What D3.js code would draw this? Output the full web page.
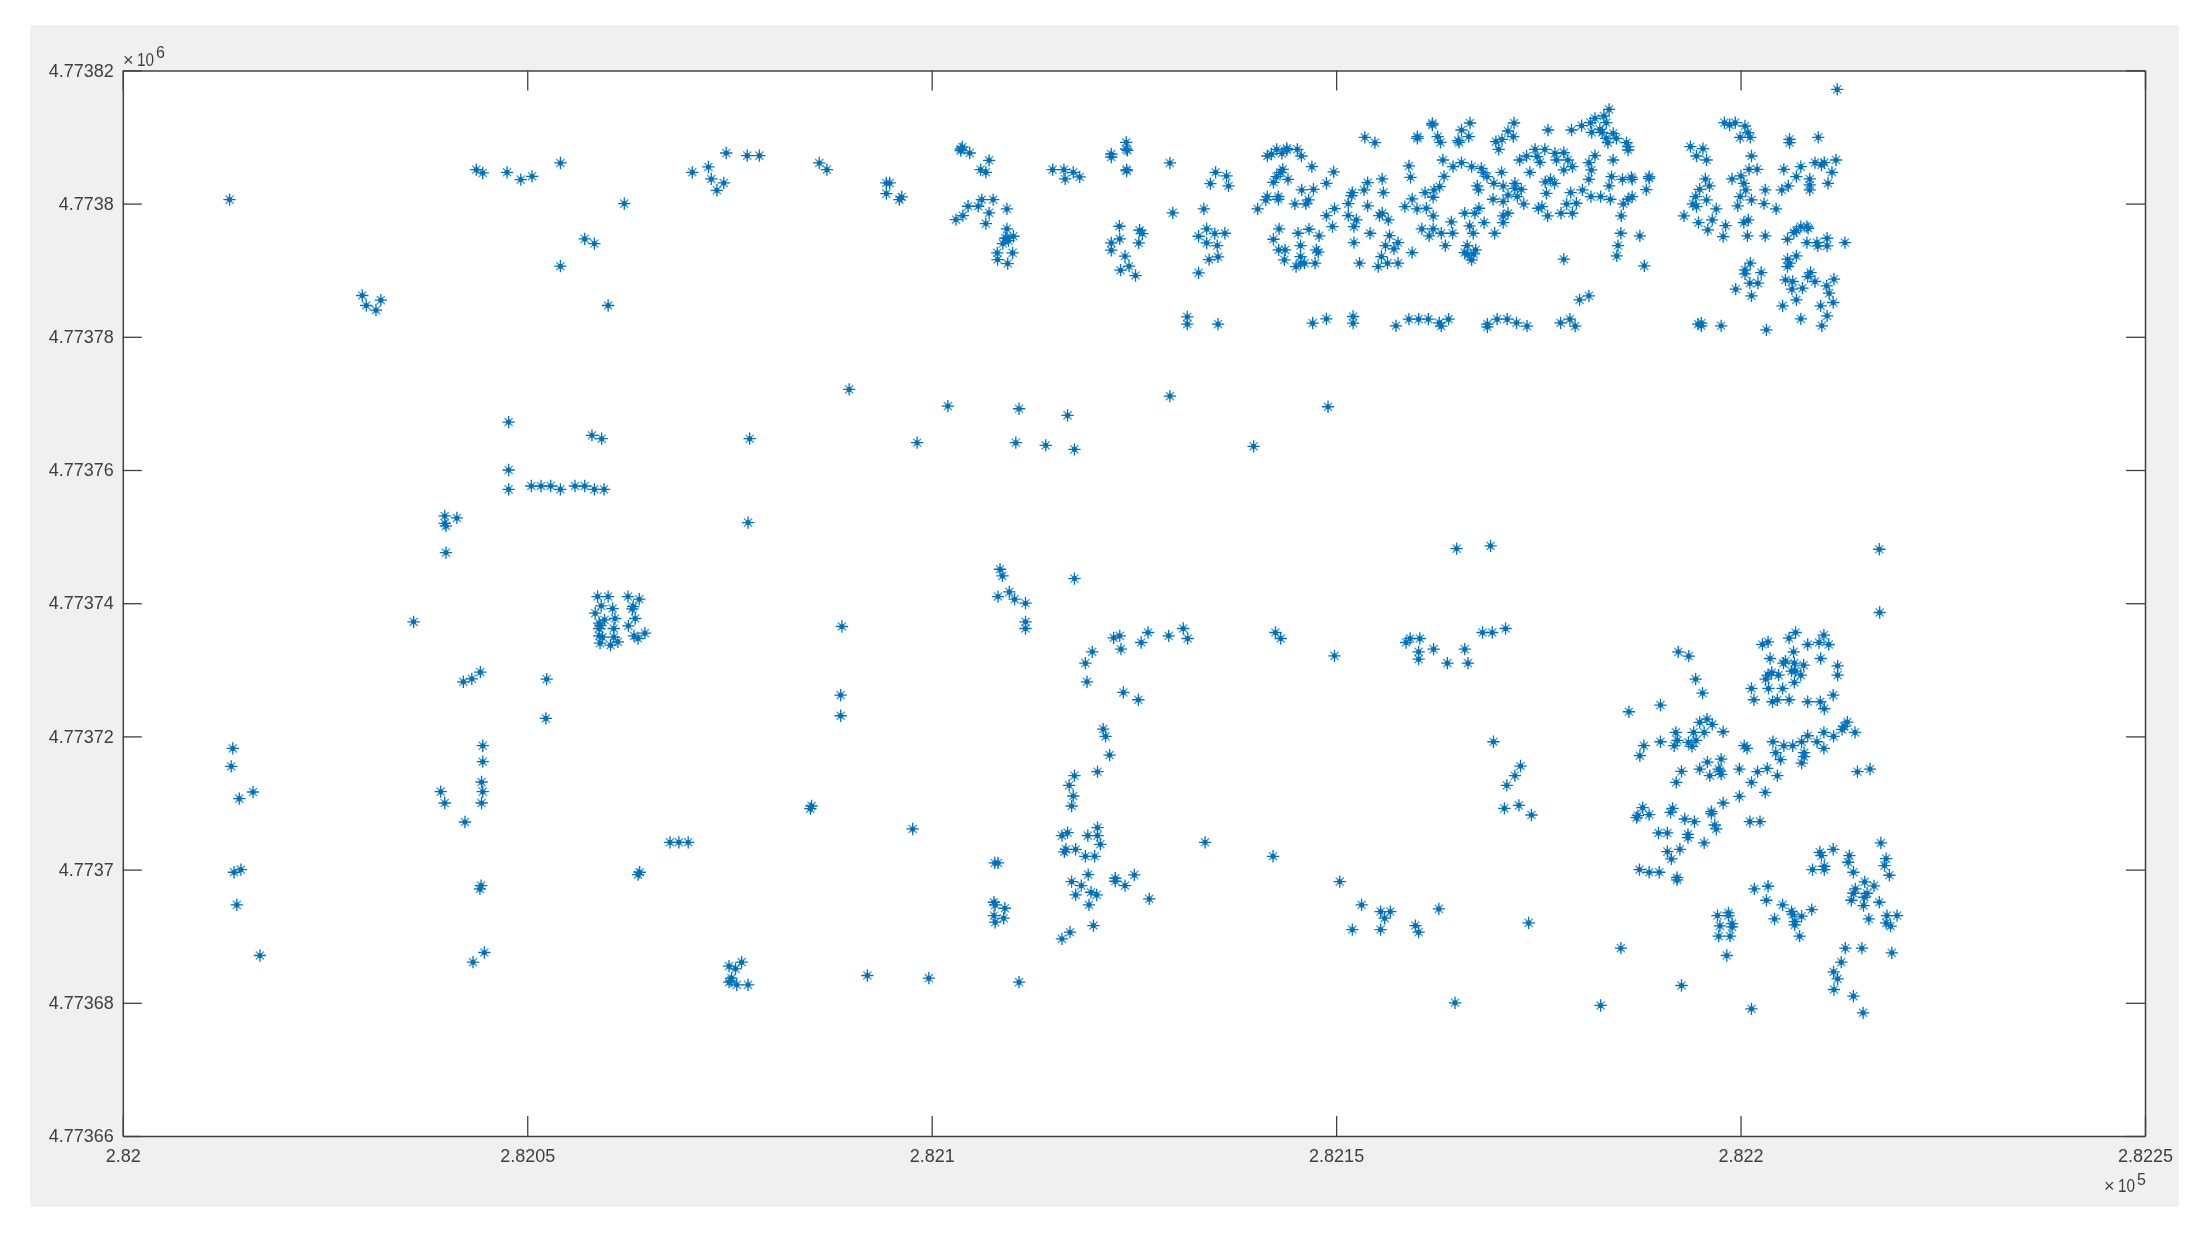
<!DOCTYPE html>
<html><head><meta charset="utf-8">
<script src="https://cdn.jsdelivr.net/npm/d3@7/dist/d3.min.js"></script>
<style>html,body{margin:0;padding:0;background:#fff}svg{display:block;filter:blur(0.45px)}text{font-family:"Liberation Sans",Arial,sans-serif;fill:#404040}</style>
</head><body><svg id="c" width="2205" height="1238"></svg>
<script>
// x = 282000 + first value, y = 4773000 + second value
const xBase = 282000, yBase = 4773000;
const xTicks = [282000,282050,282100,282150,282200,282250];
const xTickLabels = ["2.82","2.8205","2.821","2.8215","2.822","2.8225"];
const yTicks = [4773660,4773680,4773700,4773720,4773740,4773760,4773780,4773800,4773820];
const yTickLabels = ["4.77366","4.77368","4.7737","4.77372","4.77374","4.77376","4.77378","4.7738","4.77382"];

const upperLeft = [[13.2,800.6],[29.6,786.2],[30.1,784.7],[31.3,784],[31.9,785.5],[43.7,805.1],[44.5,804.6],[47.5,804.7],[49.2,803.6],[50.6,804.1],[54.1,806.1],[62,800],[57.1,794.7],[58.3,794],[54.1,790.6],[60,784.7],[70.4,804.7]];
const upperMiddle = [[74.6,807.6],[77.2,807.2],[78.7,807.2],[72.4,805.5],[72.75,803.7],[74.3,803.1],[73.45,802],[86.1,806.1],[87.05,805.1],[94.4,803.1],[94.8,803.1],[94.4,801.5],[96.3,801],[96,800.6],[103.6,808.2],[103.6,807.95],[103.8,808.5],[104.7,807.6],[107.1,806.5],[106.05,805.1],[106.7,804.7],[106.2,800.6],[107.6,800.6],[109.3,799.2],[104.5,799.6],[105.75,799.6],[107.1,798.6],[103.85,798.2],[103,797.6],[106.7,797],[109.3,796.2],[110.1,795.1],[109.3,794.8],[109.1,794.8],[109.5,794.45],[108.8,794],[108.1,792.6],[110,792.6],[108.15,791.6],[109.4,791],[114.95,805.1],[116.35,805.1],[117.5,804.7],[116.5,803.7],[118.3,804],[122.2,807.45],[122.2,807],[124.05,809.2],[124.05,808.2],[124.2,808],[124.1,805.1],[124.1,804.9],[129.45,806.1],[135.1,804.7],[134.45,803],[129.8,798.6],[133.65,799.2],[123.2,796.6],[125.7,796],[126.05,795.5],[123.25,794.7],[122.2,794.1],[125.6,794.1],[122.2,793],[123.9,792.1],[124.4,790.6],[123.35,790],[125.2,789.2],[134,796.2],[133,795.1],[135,795.5],[134,794.1],[135.3,793.7],[134.3,791.6],[135.4,792],[133,789.6],[136.25,795.55],[136.45,804.15],[136.7,802.65],[131.6,783],[131.6,781.9],[135.4,781.9]];
const midScatter = [[89.8,772.1],[77.5,764.7],[102,769.6],[98.2,764.1],[110.8,769.2],[110.4,764.1],[114.1,763.7],[116.8,768.2],[117.65,763.1],[129.45,771.1],[139.8,763.55],[149,769.5],[217.15,748.1],[164.9,748.2],[169.1,748.6],[142.5,735.6],[143.15,734.7],[149.8,732.1],[158.65,734.1],[159.15,734.7],[160.35,734.7],[160.2,732.7],[160.2,731.6],[162.05,733.1],[163.75,731],[165.9,733.1],[166.3,731],[168.1,735.6],[169.3,735.6],[170.95,736.2],[186.2,723.7],[169.45,719.2],[172.8,715.55],[172.1,714.1],[171.1,712.65],[170.8,709.2],[172.6,709.65],[174.15,708.2],[142.2,702],[150.45,698.2],[153.15,694.7],[152,691],[155.5,693.7],[156.7,693.7],[156,692.7],[155.5,691],[159.8,691.6],[160.2,690.6],[162.7,694.1],[173.8,692],[185.2,688.2],[182.7,679.6],[164.7,680]];
const lowerLeft = [[47.7,767.2],[58,765.2],[59.2,764.7],[47.7,760],[47.7,757.1],[50.5,757.6],[51.7,757.6],[52.9,757.6],[54.1,757.1],[55.9,757.6],[57.1,757.6],[58.3,757.1],[59.5,757.1],[39.8,753.1],[41.3,752.8],[39.8,752],[39.95,751.6],[39.95,747.6],[35.95,737.2],[58.7,741],[60,741],[59.15,739.6],[60.55,739.2],[58.4,738.5],[59.55,737.5],[60.85,737.7],[58.9,737],[59.05,736.65],[58.9,736.2],[60.7,736.2],[58.9,735.1],[59.3,734.9],[60.7,734.9],[59,734],[60.3,733.7],[61.2,734.2],[62.45,741],[63.85,740.6],[63.1,739.5],[63,739.15],[63.35,737.7],[62.5,736.6],[63.2,735.1],[63.7,734.7],[64.55,735.5],[44.2,729.65],[43.15,728.65],[42.1,728.2],[52.4,728.6],[52.3,722.7],[44.5,718.6],[44.5,716.2],[44.35,713.15],[44.5,711.7],[44.35,710],[39.3,711.7],[39.8,710],[42.3,707.15],[13.6,718.2],[13.4,715.5],[14.4,710.65],[16.1,711.65],[67.65,704.1],[68.75,704.1],[69.9,704.1],[63.9,699.6],[63.7,699.25],[44.3,697.6],[44.15,697.1],[13.75,699.6],[14.6,700],[14.1,694.7],[16.95,687.1],[43.3,686.1],[44.7,687.55]];
const lowerMiddle = [[77.3,752.1],[88.9,736.5],[88.75,726.2],[88.75,723.1],[85.15,709.55],[85,709.15],[97.65,706.1],[108.45,745.1],[108.75,744.1],[108.2,741],[109.6,741.7],[110.25,740.6],[111.6,740],[111.6,737.2],[111.6,736.2],[117.65,743.7],[122.5,734.8],[123.25,735.1],[123.4,733.1],[119.85,732.7],[119,731],[119.2,728.2],[125.9,734.1],[126.75,735.6],[129.3,735.1],[131.1,736.2],[131.65,734.7],[123.7,726.6],[125.55,725.5],[121.2,721.1],[121.5,720],[122,717.2],[120.5,714.7],[117.65,714.1],[117,712.65],[117.5,711.05],[117.3,709.55],[120.5,706.3],[120.5,705.1],[119.3,705.1],[116.1,705.1],[116.8,705.55],[120.85,703.8],[116.6,703.05],[116.4,702.65],[117.8,703.05],[119,702],[120.15,702],[107.8,701],[108.2,701],[133.8,704.1],[119.35,699.25],[117.3,698.2],[118.5,697.6],[122.7,698.7],[122.7,698.25],[123.9,697.6],[125.05,699.2],[119.7,696.6],[120.4,696.2],[117.8,696.2],[119.45,694.7],[126.9,695.6],[120,691.6],[117.1,690.6],[116.1,689.6],[107.7,695.1],[107.85,694.7],[109.05,694.2],[107.7,693.1],[108.9,692.7],[107.85,692.1],[76.5,686.1],[74.95,685.5],[75.75,685.1],[75.25,683.7],[74.95,683.1],[75.2,683.3],[75.9,682.7],[77.3,682.7],[92.05,684.1],[99.65,683.7],[110.8,683.1]];
const lowerRight = [[217.2,738.6],[192.3,732.7],[193.6,732.05],[194.45,728.6],[195.3,726.5],[190.1,724.7],[202.7,733.8],[203.4,734.2],[206,734.75],[206.8,735.6],[208.3,733.8],[209.7,734.1],[210.3,735.2],[210.9,733.8],[206.55,732.7],[203.65,731.7],[209.9,731.7],[205.55,731.3],[205.3,731],[206.65,731],[207.8,730.7],[212,730.6],[206.3,729.8],[206.8,729.8],[207.45,729.2],[212,729.2],[203.85,729.6],[204.7,729.2],[203.4,729.2],[203.1,728.6],[206.65,728.1],[201.35,727.2],[203.45,727.2],[205.2,727.2],[211.45,726.2],[201.65,725.5],[206,725.5],[204.55,725.5],[203.95,725.2],[208.3,725.2],[209.85,725.2],[210.35,724.15],[195.85,722.6],[194.95,722.1],[196.5,721.8],[195.5,720.6],[197.85,720.7],[192,720.6],[194.2,720.6],[213.2,722.15],[212.8,721.5],[212.55,721.05],[214.15,720.6],[210.3,720.6],[211.5,720],[208.3,720.1],[207.55,719.2],[209.45,719.2],[210.3,718.2],[188.05,718.6],[190.1,719.2],[191.8,718.6],[192.2,719.4],[193.55,719.1],[194.5,719.4],[194,718.5],[204,719.2],[205.35,718.6],[206.45,718.6],[200.45,718.6],[200.8,718.2],[204.35,717.55],[204.95,716.5],[207.85,717.55],[207.85,716.95],[207.55,716],[187.55,717.1],[195.9,716.15],[197.6,716.6],[194.95,715.1],[197.3,715.1],[199.85,715.1],[202.1,714.7],[203.3,715.2],[204.55,714.1],[196.2,714.1],[197.6,714.3],[197.45,714.8],[192.7,714.75],[192.05,713.1],[201.35,713.1],[203.05,711.6],[199.85,711],[197.85,710],[214.45,714.7],[216,715.1],[187.9,709.3],[187.15,707.8],[187.3,708.1],[188.7,708.25],[191.6,709.2],[191.35,708.6],[193.1,707.6],[194.3,707.2],[196.4,708.7],[196.4,708.4],[196.8,706.7],[197,706.1],[201.15,707.2],[202.4,707.2],[189.85,705.5],[190.95,705.5],[193.5,705.3],[193.5,704.8],[195.5,704],[192.5,703.05],[190.95,702.7],[191.45,701.6],[187.5,700],[188.7,699.6],[189.95,699.6],[192.15,698.8],[192.15,698.45],[217.35,704],[209.8,702.6],[210,702.1],[211.45,703.05],[213.45,702.1],[213.3,701.1],[218,701.65],[217.8,700.6],[218.4,699.15],[208.9,700],[210.35,700.5],[210.35,700],[213.95,699.6],[215.35,698.15],[216.5,697.55],[214.2,697.1],[215.65,696.45],[213.95,696.45],[213.7,695.4],[215.3,695.85],[217.15,695.1],[215.2,694.6],[201.7,697.1],[203.4,697.5],[203.2,695.4],[205.2,694.7],[206.3,693.7],[206.45,693.3],[208.8,694],[207.55,693],[204.2,692.6],[206.7,692.2],[206.7,691.7],[207.3,690],[219.35,693.1],[218.1,693.1],[218,692],[218.55,691.5],[215.85,692.6],[198.5,693.5],[198.5,693.1],[197.15,693.1],[197.45,691.55],[198.95,691.9],[198.95,691.4],[197.3,690],[198.7,690],[198.3,687.1],[212.95,688.2],[215,688.2],[218.7,687.5],[212.45,686.1],[211.5,684.65],[212,683.6],[211.55,682],[213.95,681],[215.15,678.5],[201.35,679.1],[192.7,682.6]];
const denseTop = [[161.9,811.8],[161.9,812.05],[160.05,810.05],[160.05,809.8],[162.55,810.05],[162.9,809.2],[166.55,812.1],[165.5,811.05],[166.4,810.05],[165.1,809.45],[165.2,809.2],[172,812.1],[171.25,810.9],[171.9,810.05],[170.5,809.65],[169.75,809.3],[170.1,808.15],[176.2,811.05],[179.1,811.05],[180.35,811.7],[181.45,812.15],[182,812.8],[183.1,813.15],[183.75,814.15],[183.4,812.15],[181.6,810.7],[182.6,811.15],[182.9,810.7],[184.25,810.55],[183.4,809.8],[184.65,809.8],[183.6,809.15],[185.9,809.15],[186.1,808.55],[186.1,808.05],[193.8,808.55],[194.55,807.15],[159,805.65],[159.2,803.95],[163.2,806.55],[164.45,805.55],[165.5,806.15],[166.75,805.55],[167.95,805.3],[168.2,804.65],[168.65,804.05],[170.45,804.7],[163.35,804.1],[162.8,802.55],[162.1,802.05],[161,801.65],[162,800.95],[167.45,802.65],[167.6,802.05],[169.5,803.05],[170.65,802.65],[172.1,803.05],[172.1,802.3],[172.9,802.15],[171.25,801.3],[172.4,801.05],[169.4,800.65],[170.65,800.3],[173.2,799.95],[159.4,800.7],[158.5,799.55],[160,799.2],[161.15,799.3],[162,798.15],[165.9,798.55],[167.15,798.55],[167.65,799.3],[171.25,798.55],[170.65,798.15],[168.3,797.15],[170.65,797.15],[164.25,797.25],[166.5,796.65],[160.6,796.2],[162,796.2],[163,795.55],[164.4,795.55],[161.5,795.15],[166.95,795.55],[169.6,795.55],[163.5,793.7],[159.4,792.65],[166.2,793.7],[167.25,793.05],[165.9,792.65],[167,792.45],[166.3,792.3],[166.75,791.55],[172.7,806.55],[173.55,807.15],[174.6,808.15],[175.8,808.15],[177.05,807.55],[178.15,807.65],[174.85,807.05],[175.2,806.2],[177.25,806.55],[178.65,806.55],[179.2,805.55],[178.15,805.05],[173.95,804.7],[182,807.2],[181.25,806.15],[181.55,805.05],[184.25,806.55],[181.25,803.65],[184.05,804.05],[185.4,803.65],[186.5,803.95],[186.6,803.65],[188.7,804.05],[188.7,803.8],[183.75,802.65],[188.35,802.1],[175.85,803.25],[176.5,803.65],[177,803.05],[176,801.55],[179,801.65],[180.45,802.05],[181.5,801.05],[182.7,801.05],[183.9,800.65],[186.6,801.05],[186.1,800.65],[185.5,799.95],[179.7,800.05],[178.5,799.95],[175.45,799.55],[175,799.3],[176.15,798.15],[177.8,798.55],[179.2,798.55],[185.25,798.15],[185.2,795.55],[187.55,795.15],[184.85,793.7],[184.7,792.15],[188.1,790.65],[178.15,791.65],[181.25,786.15],[180.1,785.55],[193,798.15]];
const stripBottom = [[147.1,782.05],[148.8,782.7],[152.1,783.05],[152.1,782.05],[157.4,781.65],[159,782.65],[160.2,782.65],[161.4,782.65],[162.75,782.1],[163,781.6],[163.9,782.65],[168.7,781.9],[168.7,781.5],[169.9,782.65],[171.15,782.65],[172.3,782.1],[173.6,781.6],[177.75,782.1],[178.9,782.65],[179.55,781.6],[194.75,781.9],[195.15,782.05],[195.15,781.65],[197.6,781.65],[203.2,781.05]];
const denseMiddle = [[141.5,807.15],[142,807.45],[142.65,808.15],[143.9,808.3],[143.9,808.05],[145.2,808.15],[143.3,807.55],[145.7,807.15],[147,805.55],[149.7,804.75],[148.8,803.05],[143.4,805.15],[143.1,804.65],[142.65,804.05],[142.25,803.2],[144.05,803.65],[141.5,801.05],[141.3,800.55],[142.85,801.05],[142.85,800.65],[140.3,799.2],[145.75,802.05],[147.2,802.15],[146.6,800.55],[146.25,799.95],[144.9,799.95],[142.95,796.2],[145.3,795.55],[146.65,796.15],[147.9,795.15],[142.25,794.65],[145.6,793.7],[142.9,793.05],[143.7,793.05],[147.55,793.05],[147.8,792.7],[143.6,791.55],[145.6,792.05],[145.6,791.05],[146.1,791.05],[147.4,791.05],[145.05,790.55],[148.8,798.2],[149.8,799.25],[149.55,796.55],[151.5,800],[151.9,801.2],[152,801.65],[153.45,802.05],[153.9,803.15],[155.7,803.7],[155.85,801.65],[153.9,799.65],[151.5,798.2],[152.5,797.55],[152.2,796.55],[155.7,798.55],[155.35,798.2],[156.45,797.55],[152.2,794.15],[154.2,795.55],[156.6,795.2],[152.9,791.05],[157.65,794.15],[156.1,793.7],[157.15,793.2],[155.6,792.05],[155.2,790.55],[156.35,791.05],[157.65,791.05],[153.55,809.95],[154.8,809.15]];
const upperRight = [[195.35,808.25],[195.8,806.55],[195.65,803.7],[196.15,802.65],[194.95,802.15],[194.45,801.05],[195.8,800.55],[194.1,799.95],[194.55,799.55],[197,799.2],[194.8,797.15],[196.5,797.55],[195.95,796.05],[198.15,796.7],[197.85,795.05],[198,812.15],[198.65,811.8],[199.35,812.15],[200.55,811.65],[200.9,810.65],[199.95,809.95],[201.2,809.95],[201.35,807.15],[201.05,805.15],[202.05,805.15],[198.95,803.7],[200.05,804.15],[200.4,803.05],[200.65,802.05],[199.95,801.05],[201.35,800.55],[199.65,799.65],[203.05,802.05],[202.9,800],[204.4,799.2],[200.4,797.15],[200.95,797.55],[200.85,795.15],[203.05,795.15],[205.35,805.15],[207.45,805.55],[206.9,804.05],[205.9,802.65],[205.1,802.05],[208.55,803.7],[208.55,802.8],[208.55,802.05],[206.05,809.65],[206.05,809.15],[209.6,809.95],[211.95,817.15],[209.2,806.15],[210,805.8],[210.35,806.15],[211.8,806.55],[211.3,804.7],[210.8,803.05],[207.45,796.55],[208.35,796.3],[208.2,796.55],[206.6,795.65],[206.9,795.95],[205.8,794.65],[208.2,794.15],[209.45,794.15],[209.55,793.65],[210.7,794.8],[210.7,793.65],[212.9,794.15],[206.9,792.15],[205.8,791.65],[206.1,791.05],[205.8,790.55],[201.2,791.05],[200.55,790.05],[200.55,789.45],[202.55,789.65],[205.55,788.55],[206.45,788.3],[208.65,789.65],[208.3,789.05],[209.2,788.3],[211.55,788.65],[201.15,788.05],[202.15,788.05],[206.35,787.15],[207.65,787.3],[210.65,787.65],[210.95,786.55],[199.4,787.15],[201.35,786.15],[211.45,785.15],[206.9,785.55],[205.2,784.65],[209.9,784.65],[210.7,783.15],[207.45,782.7],[210.05,781.65]];
const allPoints = [upperLeft,upperMiddle,midScatter,lowerLeft,lowerMiddle,lowerRight,denseTop,stripBottom,denseMiddle,upperRight].flat();

const svg = d3.select("#c");
const plot = {l:122.8, r:2145, t:70.4, b:1136};
const x = d3.scaleLinear().domain([282000,282250]).range([plot.l,plot.r]);
const y = d3.scaleLinear().domain([4773660,4773820]).range([plot.b,plot.t]);

svg.append("rect").attr("x",30).attr("y",25).attr("width",2149).attr("height",1182).attr("fill","#f0f0f0");
svg.append("rect").attr("x",plot.l).attr("y",plot.t).attr("width",plot.r-plot.l).attr("height",plot.b-plot.t).attr("fill","#fff");

const xLabel = d => xTickLabels[xTicks.indexOf(d)];
const yLabel = d => yTickLabels[yTicks.indexOf(d)];
function style(g){
  g.selectAll(".domain").attr("stroke","#404040").attr("stroke-width",1.5);
  g.selectAll(".tick line").attr("stroke","#404040").attr("stroke-width",1.3);
  g.selectAll("text").attr("font-size",18).attr("fill","#404040").attr("font-family",'"Liberation Sans",Arial,sans-serif');
}
svg.append("g").attr("transform",`translate(0,${plot.b})`)
  .call(d3.axisBottom(x).tickValues(xTicks).tickFormat(xLabel).tickSize(-20).tickSizeOuter(0).tickPadding(13)).call(style);
svg.append("g").attr("transform",`translate(0,${plot.t})`)
  .call(d3.axisTop(x).tickValues(xTicks).tickFormat("").tickSize(-20).tickSizeOuter(0)).call(style);
svg.append("g").attr("transform",`translate(${plot.l},0)`)
  .call(d3.axisLeft(y).tickValues(yTicks).tickFormat(yLabel).tickSize(-19).tickSizeOuter(0).tickPadding(9)).call(style);
svg.append("g").attr("transform",`translate(${plot.r},0)`)
  .call(d3.axisRight(y).tickValues(yTicks).tickFormat("").tickSize(-19).tickSizeOuter(0)).call(style);

const armPlus = {draw(c,s){const r=Math.sqrt(s);c.moveTo(-r,0);c.lineTo(r,0);c.moveTo(0,-r);c.lineTo(0,r);c.moveTo(1.9,0);c.arc(0,0,1.9,0,2*Math.PI);}};
const armCross = {draw(c,s){const r=Math.sqrt(s)*0.66;c.moveTo(-r,-r);c.lineTo(r,r);c.moveTo(-r,r);c.lineTo(r,-r);}};
const gm = svg.append("g");
gm.selectAll("path.cross").data(allPoints).join("path").attr("class","cross")
  .attr("d",d3.symbol().type(armCross).size(38))
  .attr("transform",d=>`translate(${x(xBase+d[0])},${y(yBase+d[1])})`)
  .attr("fill","none").attr("stroke","#0072BD").attr("stroke-width",1.4).attr("stroke-opacity",0.7);
gm.selectAll("path.plus").data(allPoints).join("path").attr("class","plus")
  .attr("d",d3.symbol().type(armPlus).size(38))
  .attr("transform",d=>`translate(${x(xBase+d[0])},${y(yBase+d[1])})`)
  .attr("fill","#0072BD").attr("stroke","#0072BD").attr("stroke-width",1.3);

function mult(xx,yy,exp,ey){
  svg.append("text").attr("x",xx).attr("y",yy).attr("font-size",18).text("\u00d7");
  svg.append("text").attr("x",xx+14).attr("y",yy).attr("font-size",19).attr("textLength",17).attr("lengthAdjust","spacingAndGlyphs").text("10");
  svg.append("text").attr("x",xx+33).attr("y",ey).attr("font-size",16).text(exp);
}
mult(123,66,"6",58);
mult(2104,1191.5,"5",1184.5);
</script></body></html>
